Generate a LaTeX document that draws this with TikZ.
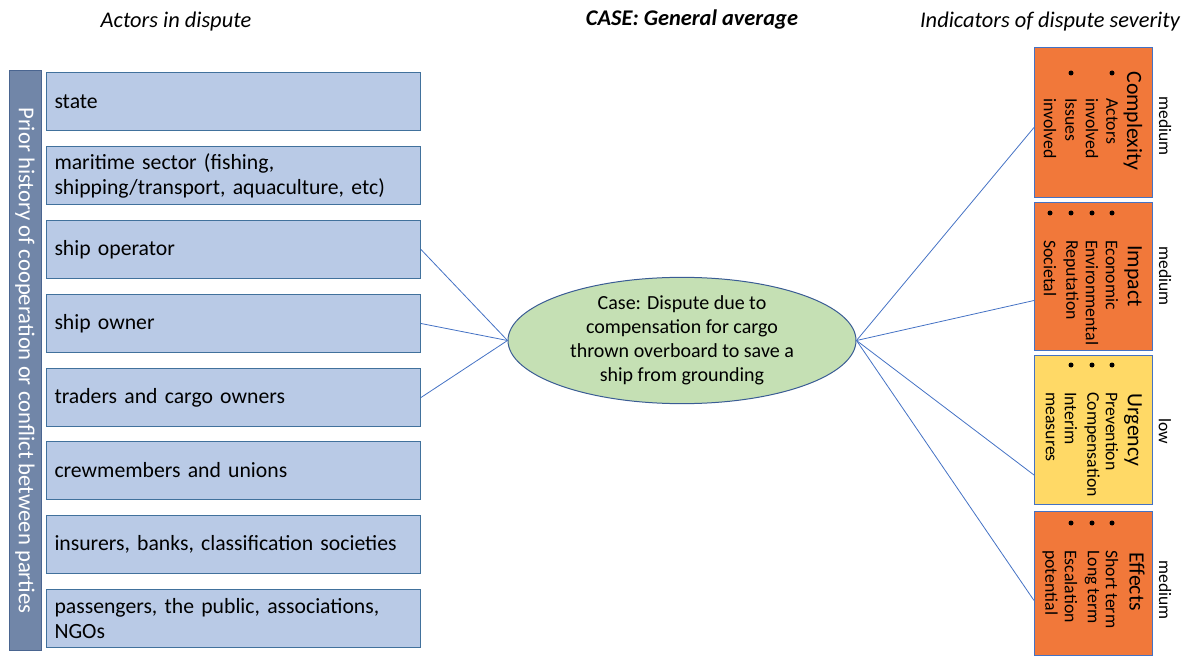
\documentclass[tikz,border=0pt]{standalone}
\usepackage{fontspec}
\setmainfont{Carlito}
\usetikzlibrary{shapes.geometric,calc}
\definecolor{boxfill}{HTML}{B9CAE6}
\definecolor{boxdraw}{HTML}{41719C}
\definecolor{barfill}{HTML}{7186A8}
\definecolor{bardraw}{HTML}{4A6590}
\definecolor{ellfill}{HTML}{C5E0B4}
\definecolor{elldraw}{HTML}{3A5C94}
\definecolor{linkc}{HTML}{4472C4}
\definecolor{orangefill}{HTML}{F1783A}
\definecolor{yellowfill}{HTML}{FFD966}
\definecolor{rdraw}{HTML}{4472C4}
\begin{document}
\begin{tikzpicture}[x=1pt,y=-1pt,
  actor/.style={draw=boxdraw, fill=boxfill, line width=1pt, minimum width=374pt, minimum height=58pt,
    text width=358pt, inner xsep=8pt, align=left, font=\fontsize{21.7}{25}\selectfont, anchor=north west},
  ind/.style={draw=rdraw, line width=1pt, minimum width=118pt, anchor=north west, inner sep=0pt},
  rt/.style={rotate=-90, inner sep=0pt, anchor=west, font=\fontsize{17.8}{20}\selectfont},
  rbul/.style={circle, fill=black, draw=none, inner sep=0pt, minimum size=5pt},
  rtitle/.style={rotate=-90, inner sep=0pt, anchor=center, font=\fontsize{21.8}{25}\selectfont},
  sev/.style={rotate=-90, inner sep=0pt, anchor=center, font=\fontsize{17.5}{20}\selectfont},
  head/.style={inner sep=0pt, font=\fontsize{22.4}{26}\selectfont\itshape},
  link/.style={draw=linkc, line width=0.8pt}
]
\useasboundingbox (0,0) rectangle (1189,660);

% headings
\node[head] (h1) at (176,22) {Actors in dispute};
\node[head, font=\fontsize{22.4}{26}\selectfont\bfseries\itshape] (h2) at (692,20) {CASE: General average};
\node[head] (h3) at (1050,22) {Indicators of dispute severity};

% vertical bar
\node[draw=bardraw, fill=barfill, line width=1pt, rotate=-90, minimum width=579pt, minimum height=32pt,
  inner sep=0pt, text=white, font=\fontsize{22.7}{26}\selectfont] (bar) at (25,360.5)
  {Prior history of cooperation or conflict between parties};

% actors
\node[actor] (a1) at (46,72) {state};
\node[actor] (a2) at (46,146) {maritime sector (fishing,\\shipping/transport, aquaculture, etc)};
\node[actor] (a3) at (46,220) {ship operator};
\node[actor] (a4) at (46,294) {ship owner};
\node[actor] (a5) at (46,368) {traders and cargo owners};
\node[actor] (a6) at (46,441) {crewmembers and unions};
\node[actor] (a7) at (46,515) {insurers, banks, classification societies};
\node[actor] (a8) at (46,589) {passengers, the public, associations,\\NGOs};

% case ellipse
\node[ellipse, draw=elldraw, fill=ellfill, line width=1pt, minimum width=348pt, minimum height=111pt,
  inner sep=0pt, align=center, font=\fontsize{20}{24}\selectfont] (case) at (682,340.5)
  {Case: Dispute due to\\compensation for cargo\\thrown overboard to save a\\ship from grounding};

% indicator boxes
\node[ind, fill=orangefill, minimum height=150pt] (r1) at (1034,47) {};
\node[ind, fill=orangefill, minimum height=148pt] (r2) at (1034,202) {};
\node[ind, fill=yellowfill, minimum height=149pt] (r3) at (1034,355) {};
\node[ind, fill=orangefill, minimum height=144pt] (r4) at (1034,511) {};

% Complexity
\node[rtitle] (t1) at (1133,121) {Complexity};
\node[rt] (l11) at (1112,98) {Actors};
\node[rt] (l12) at (1092,98) {involved};
\node[rt] (l13) at (1071,98) {Issues};
\node[rt] (l14) at (1050,98) {involved};
\node[sev] (s1) at (1165,126) {medium};

% Impact
\node[rtitle] (t2) at (1133,276) {Impact};
\node[rt] (l21) at (1112,240) {Economic};
\node[rt] (l22) at (1092,240) {Environmental};
\node[rt] (l23) at (1071,240) {Reputation};
\node[rt] (l24) at (1050,240) {Societal};
\node[sev] (s2) at (1165,276) {medium};

% Urgency
\node[rtitle] (t3) at (1133,430) {Urgency};
\node[rt] (l31) at (1112,392) {Prevention};
\node[rt] (l32) at (1092,392) {Compensation};
\node[rt] (l33) at (1071,392) {Interim};
\node[rt] (l34) at (1050,392) {measures};
\node[sev] (s3) at (1165,431) {low};

% Effects
\node[rtitle] (t4) at (1137,582) {Effects};
\node[rt] (l41) at (1112,550) {Short term};
\node[rt] (l42) at (1092,550) {Long term};
\node[rt] (l43) at (1071,550) {Escalation};
\node[rt] (l44) at (1050,550) {potential};
\node[sev] (s4) at (1165,590) {medium};

% bullets (drawn last)
\node[rbul] (b11) at (1112,73) {};
\node[rbul] (b12) at (1071,73) {};
\node[rbul] (b21) at (1112,213) {};
\node[rbul] (b22) at (1092,213) {};
\node[rbul] (b23) at (1071,213) {};
\node[rbul] (b24) at (1050,213) {};
\node[rbul] (b31) at (1112,365) {};
\node[rbul] (b32) at (1092,365) {};
\node[rbul] (b33) at (1071,365) {};
\node[rbul] (b41) at (1112,523) {};
\node[rbul] (b42) at (1092,523) {};
\node[rbul] (b43) at (1071,523) {};

% connectors
\draw[link] (a3.east) -- (case.west);
\draw[link] (a4.east) -- (case.west);
\draw[link] (a5.east) -- (case.west);
\draw[link] (case.east) -- ([yshift=-5pt]r1.west);
\draw[link] (case.east) -- ([yshift=-24pt]r2.west);
\draw[link] (case.east) -- ([yshift=-45pt]r3.west);
\draw[link] (case.east) -- ([yshift=-17pt]r4.west);
\end{tikzpicture}
\end{document}
